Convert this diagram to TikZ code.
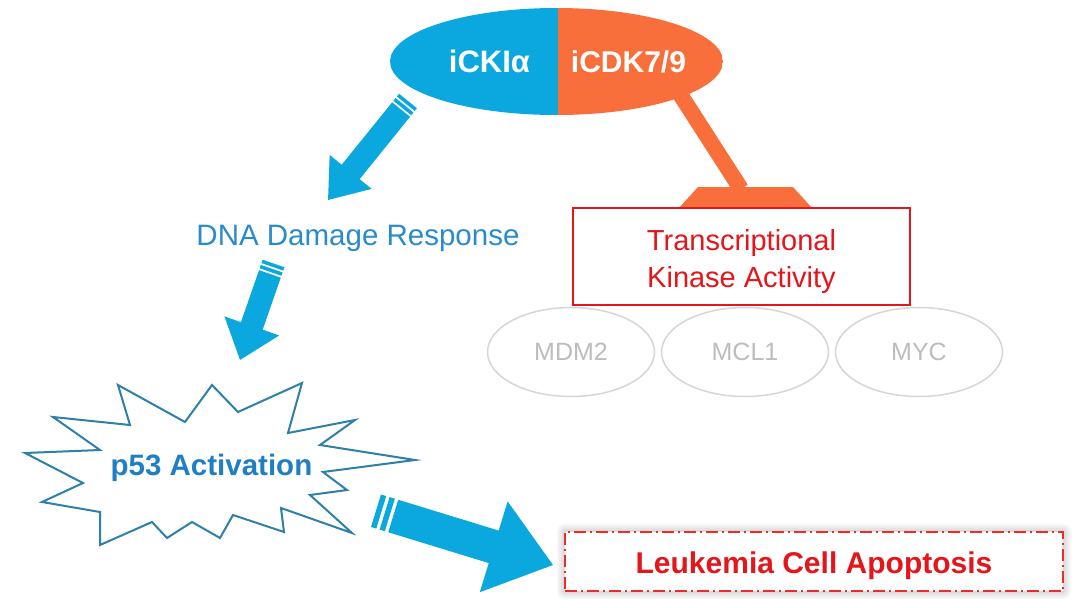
\documentclass[tikz,border=0pt]{standalone}
\usepackage{fontspec}
\setmainfont{Liberation Sans}
\usetikzlibrary{calc,shapes.geometric}
\definecolor{cblue}{HTML}{0BA8DF}
\definecolor{corange}{HTML}{F96F3B}
\definecolor{dnablue}{HTML}{2A8BCB}
\definecolor{starblue}{HTML}{2E80A8}
\definecolor{p53blue}{HTML}{1E7FC5}
\definecolor{cred}{HTML}{E3161B}
\definecolor{lred}{HTML}{EE2A2A}
\definecolor{egray}{HTML}{D6D6D6}
\definecolor{tgray}{HTML}{BDBDBD}
% #1 tail coord, #2 tip coord, #3 shaft half width, #4 head half width,
% #5 head length, #6 band width, #7 gap, #8 colour
\newcommand\fatarrow[8]{%
  \pgfpointdiff{\pgfpointanchor{#1}{center}}{\pgfpointanchor{#2}{center}}%
  \pgfgetlastxy{\fdx}{\fdy}%
  \pgfmathsetmacro\fang{atan2(\fdy,\fdx)}%
  \pgfmathsetmacro\flen{veclen(\fdx,\fdy)}%
  \begin{scope}[shift={(#1)}, rotate=\fang, x=1pt, y=1pt]
    \fill[#8] (0,-#3) rectangle (#6,#3);
    \fill[#8] ({#6+#7},-#3) rectangle ({2*#6+#7},#3);
    \fill[#8] ({2*#6+2*#7},-#3) -- ({\flen-#5},-#3) -- ({\flen-#5},-#4)
      -- (\flen,0) -- ({\flen-#5},#4) -- ({\flen-#5},#3)
      -- ({2*#6+2*#7},#3) -- cycle;
  \end{scope}}
\begin{document}
\begin{tikzpicture}[x=1pt,y=-1pt,
  toptxt/.style={text=white,font=\bfseries\fontsize{30}{36}\selectfont,anchor=base,inner sep=0},
  dnatxt/.style={text=dnablue,font=\fontsize{29.5}{35}\selectfont,anchor=base,inner sep=0},
  redtxt/.style={text=cred,font=\fontsize{29}{35}\selectfont,anchor=base,inner sep=0},
  genebox/.style={ellipse,draw=egray,line width=1.5pt,fill=white,minimum width=167pt,minimum height=89pt,inner sep=0,text=tgray,font=\fontsize{25}{30}\selectfont},
  tkabox/.style={rectangle,draw=cred,line width=2pt,fill=white,minimum width=337pt,minimum height=97pt,inner sep=0},
  inhib/.style={draw=corange,line width=16pt},
  startxt/.style={text=p53blue,font=\bfseries\fontsize{29.5}{35}\selectfont,anchor=base,inner sep=0},
  leuktxt/.style={text=cred,font=\bfseries\fontsize{30}{36}\selectfont,anchor=base,inner sep=0},
  leukbox/.style={rectangle,draw=lred,line width=2pt,dash pattern=on 12pt off 4pt on 2pt off 4pt,fill=white,minimum width=498pt,minimum height=59pt,inner sep=0}
]
\useasboundingbox (0,0) rectangle (1080,608);
\fill[white] (0,0) rectangle (1080,608);

% inhibitor stem and bar
\coordinate (inhA) at (660,63);
\coordinate (inhB) at (741,189);
\draw[inhib] (inhA) -- (inhB);
\fill[corange] (698,187) -- (793,187) -- (813,209) -- (678,209) -- cycle;

% top split ellipse
\node[ellipse,minimum width=333pt,minimum height=107pt,inner sep=0,
  path picture={
    \fill[cblue] (path picture bounding box.south west) rectangle ([xshift=1.5pt]path picture bounding box.north);
    \fill[corange] ([xshift=1.5pt]path picture bounding box.north) rectangle (path picture bounding box.south east);
  }] (top) at (556.5,61.5) {};
\node[toptext/.style={},toptxt,font=\bfseries\fontsize{31}{36}\selectfont] (ck) at (489.5,72) {iCKIα};
\node[toptxt] (cdk) at (628.5,72) {iCDK7/9};

% blue arrows
\coordinate (a1s) at (408,101);
\coordinate (a1e) at (328,200);
\fatarrow{a1s}{a1e}{11.5}{27}{36}{3.5}{2}{cblue}
\node[dnatxt] (dna) at (358,245) {DNA Damage Response};
\coordinate (a2s) at (273.5,263.5);
\coordinate (a2e) at (240,360);
\fatarrow{a2s}{a2e}{11.5}{29}{36}{3.5}{2}{cblue}

% gene ellipses
\node[genebox] (mdm2) at (571,352) {MDM2};
\node[genebox] (mcl1) at (745,352) {MCL1};
\node[genebox] (myc) at (919,352) {MYC};

% transcriptional kinase box
\node[tkabox] (tka) at (741.5,256.5) {};
\node[redtxt] (tka1) at (741.5,250) {Transcriptional};
\node[redtxt] (tka2) at (741.5,287) {Kinase Activity};

% star
\draw[starblue,line width=2pt,fill=white,line join=miter]
  (212,385) -- (185,422) -- (118,385) -- (130,425) -- (53,417) -- (100,450)
  -- (25,453) -- (83,483) -- (42,502) -- (100,512) -- (100,545) -- (152,522)
  -- (167,538) -- (192,522) -- (220,538) -- (233,515) -- (284,532) -- (281,508)
  -- (352,533) -- (310,495) -- (347,490) -- (323,472) -- (415,460) -- (320,445)
  -- (355,420) -- (288,433) -- (302,383) -- (238,412) -- cycle;
\node[startxt] (p53) at (211.5,475) {p53 Activation};

% big arrow
\coordinate (a3s) at (376,510.7);
\coordinate (a3e) at (553,565);
\fatarrow{a3s}{a3e}{17}{47.5}{62}{5.5}{3.5}{cblue}

% leukemia box with soft glow
\foreach \o in {2,4,6,8}{
  \fill[black,opacity=0.035,rounded corners=\o pt] ($(565,532)+(-\o,-\o)$) rectangle ($(1063,591)+(\o,\o)$);
}
\node[leukbox] (leuk) at (814,561.5) {};
\node[leuktxt] (leukt) at (814,573) {Leukemia Cell Apoptosis};
\end{tikzpicture}
\end{document}
